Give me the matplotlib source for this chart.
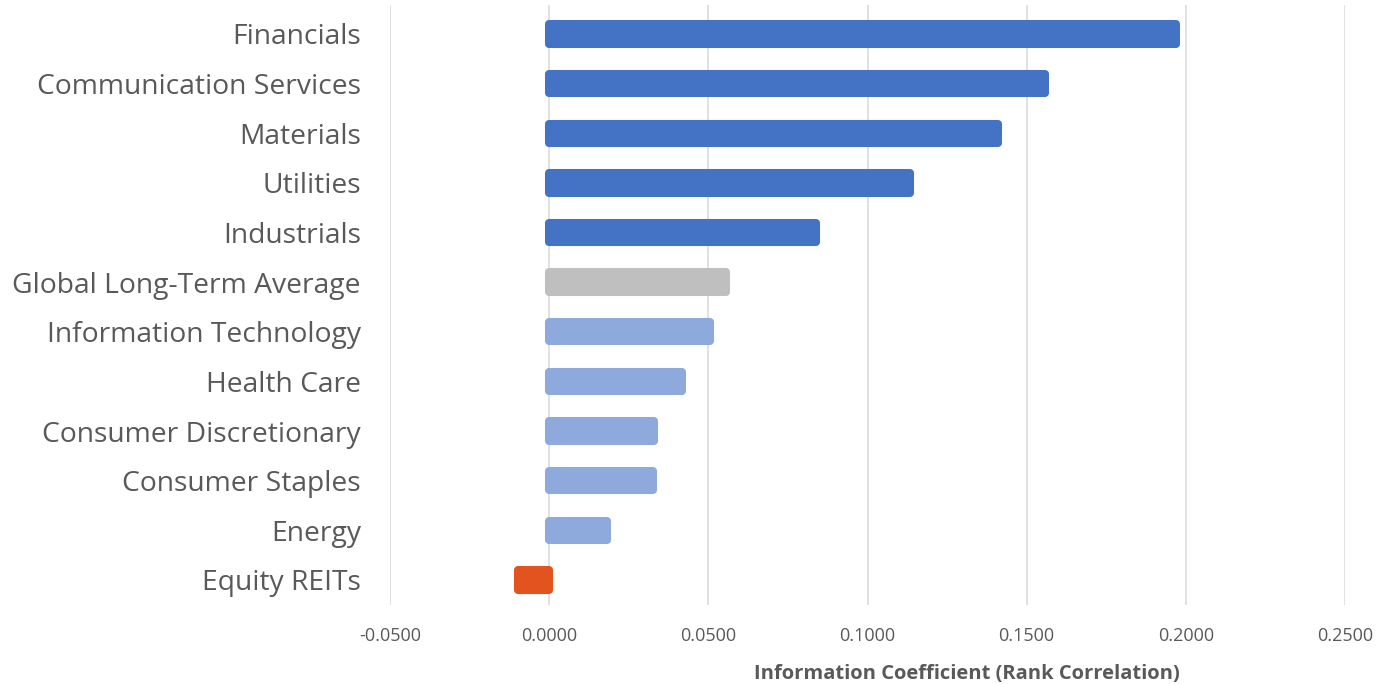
import matplotlib
matplotlib.use("Agg")
import matplotlib.pyplot as plt
from matplotlib.ticker import FixedLocator

categories = [
    "Financials", "Communication Services", "Materials", "Utilities",
    "Industrials", "Global Long-Term Average", "Information Technology",
    "Health Care", "Consumer Discretionary", "Consumer Staples", "Energy",
    "Equity REITs",
]
ic_values = [0.1969, 0.1559, 0.1411, 0.1135, 0.0837, 0.0555, 0.0506,
             0.0417, 0.0330, 0.0327, 0.0182, -0.0097]
bar_groups = ["top", "top", "top", "top", "top", "avg", "low", "low",
              "low", "low", "low", "neg"]
x_ticks = [-0.05, 0.0, 0.05, 0.10, 0.15, 0.20, 0.25]
x_title = "Information Coefficient (Rank Correlation)"

group_colors = {"top": "#4472C4", "avg": "#BFBFBF", "low": "#8EA9DB", "neg": "#E2531F"}

plt.rcParams["font.family"] = ["Open Sans", "DejaVu Sans"]

fig = plt.figure(figsize=(13.79, 6.84), dpi=100)
ax = fig.add_axes([390 / 1379, 1 - 605 / 684, (1345 - 390) / 1379, 600 / 684])

colors = [group_colors[g] for g in bar_groups]
ypos = list(range(len(categories)))
ax.barh(ypos, ic_values, height=0.39, color=colors, edgecolor=colors,
        linewidth=5.8, joinstyle="round", zorder=3)

ax.set_xlim(-0.05, 0.25)
ax.set_ylim(11.504, -0.584)
ax.xaxis.set_major_locator(FixedLocator(x_ticks))
ax.set_xticklabels([f"{t:.4f}" for t in x_ticks], fontsize=13, color="#595959")
ax.set_yticks(ypos)
ax.set_yticklabels(categories, fontsize=20.3, color="#595959")
ax.tick_params(axis="both", length=0)
ax.tick_params(axis="x", pad=16)
ax.tick_params(axis="y", pad=21)
ax.grid(axis="x", color="#D9D9D9", linewidth=1.1, zorder=0)
for s in ax.spines.values():
    s.set_visible(False)

fig.text(967 / 1379, 1 - 674 / 684, x_title, ha="center", va="center",
         fontsize=14.5, fontweight="bold", color="#595959")

fig.savefig("out.png", dpi=100, facecolor="white")
